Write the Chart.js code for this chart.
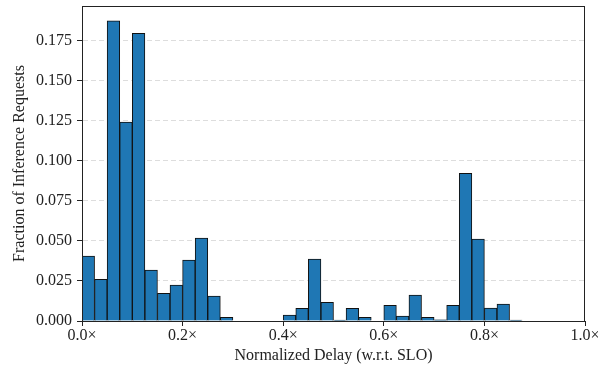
<!DOCTYPE html>
<html>
<head>
<meta charset="utf-8">
<script src="https://cdn.jsdelivr.net/npm/chart.js@4"></script>
<style>
  html, body { margin: 0; padding: 0; background: #fff; }
  #wrap { width: 598px; height: 366px; }
</style>
</head>
<body>
<div id="wrap"><canvas id="chart" width="598" height="366"></canvas></div>
<script>
// histogram bins of width 0.025 from 0 to 1.0
const binWidth = 0.025;
const fractions = [
    0.0405, 0.0260, 0.1872, 0.1240, 0.1793, 0.0318, 0.0173, 0.0224, 0.0380, 0.0517,
    0.0156, 0.0023, 0, 0, 0, 0, 0.0037, 0.0079, 0.0386, 0.0117,
    0.0005, 0.0079, 0.0023, 0, 0.0098, 0.0030, 0.0162, 0.0023, 0.0008, 0.0098,
    0.0920, 0.0511, 0.0081, 0.0106, 0.0005, 0, 0, 0, 0, 0
];
const binCenters = fractions.map((v, i) => i * binWidth + binWidth / 2);
const xTicks = [0, 0.2, 0.4, 0.6, 0.8, 1.0];
const yMax = 0.1964;

const FONT = "'Liberation Serif', 'DejaVu Serif', serif";

const framePlugin = {
    id: "frame",
    afterDraw(chart) {
        const { ctx, chartArea } = chart;
        ctx.save();
        ctx.strokeStyle = "#222";
        ctx.lineWidth = 1;
        ctx.strokeRect(Math.round(chartArea.left) + 0.5, Math.round(chartArea.top) + 0.5,
            Math.round(chartArea.width) - 1, Math.round(chartArea.height));
        ctx.restore();
    }
};

new Chart(document.getElementById("chart"), {
    type: "bar",
    data: {
        datasets: [{
            data: binCenters.map((x, i) => ({ x: x, y: fractions[i] })),
            backgroundColor: "#1f77b4",
            borderColor: "#111",
            borderWidth: 1,
            barPercentage: 1,
            categoryPercentage: 1
        }]
    },
    options: {
        responsive: false,
        animation: false,
        layout: {
            padding: { left: 0, right: 13, top: 6, bottom: 0 }
        },
        plugins: {
            legend: { display: false },
            tooltip: { enabled: false }
        },
        scales: {
            x: {
                type: "linear",
                min: 0,
                max: 1.0,
                offset: false,
                afterBuildTicks: scale => {
                    scale.ticks = xTicks.map(v => ({ value: v }));
                },
                afterFit: scale => {
                    scale.height = 45;
                    scale.paddingLeft = 0;
                    scale.paddingRight = 0;
                },
                grid: {
                    offset: false,
                    drawOnChartArea: false,
                    tickLength: 5,
                    tickColor: "#222"
                },
                border: { color: "#222", width: 1 },
                ticks: {
                    color: "#222",
                    font: { family: FONT, size: 16 },
                    padding: 0,
                    maxRotation: 0,
                    callback: v => v.toFixed(1) + "×"
                },
                title: {
                    display: true,
                    text: "Normalized Delay (w.r.t. SLO)",
                    color: "#222",
                    font: { family: FONT, size: 16 },
                    padding: { top: 0, bottom: 1 }
                }
            },
            y: {
                min: 0,
                max: yMax,
                afterFit: scale => {
                    scale.width = 82;
                    scale.paddingTop = 0;
                    scale.paddingBottom = 0;
                },
                grid: {
                    color: "#dddddd",
                    lineWidth: 1,
                    tickLength: 5,
                    tickColor: "#222"
                },
                border: { color: "#222", width: 1, dash: [5, 3] },
                ticks: {
                    stepSize: 0.025,
                    includeBounds: false,
                    color: "#222",
                    font: { family: FONT, size: 16 },
                    padding: 5,
                    callback: v => v.toFixed(3)
                },
                title: {
                    display: true,
                    text: "Fraction of Inference Requests",
                    color: "#222",
                    font: { family: FONT, size: 16 },
                    padding: { top: 10, bottom: 0 }
                }
            }
        }
    },
    plugins: [framePlugin]
});
</script>
</body>
</html>
